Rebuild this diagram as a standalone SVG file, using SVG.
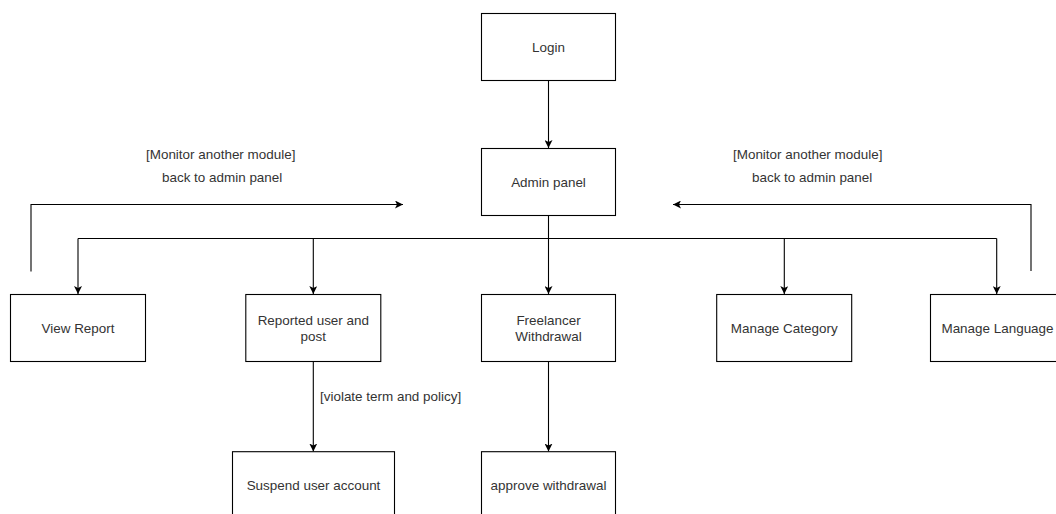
<svg xmlns="http://www.w3.org/2000/svg" width="1056" height="514" viewBox="0 0 1056 514">
<style>
.box{fill:#ffffff;stroke:#000000;stroke-width:1.1}
.t{font-family:"Liberation Sans",Arial,sans-serif;font-size:13.44px;fill:#333333;text-anchor:middle}
.lbl{font-family:"Liberation Sans",Arial,sans-serif;font-size:13.44px;fill:#333333;text-anchor:start}
.c{fill:none;stroke:#000000;stroke-width:1.1}
</style>
<defs>
<marker id="arr" markerUnits="userSpaceOnUse" viewBox="0 0 8 8" markerWidth="8" markerHeight="8" refX="8" refY="4" orient="auto">
<path d="M0,0 L8,4 L0,8 L2,4 z" fill="#000000"/>
</marker>
</defs>
<rect width="1056" height="514" fill="#ffffff"/>
<g id="connectors">
<path class="c" d="M548.5,80.5 V148" marker-end="url(#arr)"/>
<path class="c" d="M548.5,215.5 V238.5"/>
<path class="c" d="M78,238.5 H996.7"/>
<path class="c" d="M78,238.5 V294" marker-end="url(#arr)"/>
<path class="c" d="M313.3,238.5 V294" marker-end="url(#arr)"/>
<path class="c" d="M548.5,238.5 V294" marker-end="url(#arr)"/>
<path class="c" d="M784.3,238.5 V294" marker-end="url(#arr)"/>
<path class="c" d="M996.7,238.5 V294" marker-end="url(#arr)"/>
<path class="c" d="M313.3,361.5 V451.5" marker-end="url(#arr)"/>
<path class="c" d="M548.5,361.5 V451.5" marker-end="url(#arr)"/>
<path class="c" d="M31,271.5 V204.5 H403" marker-end="url(#arr)"/>
<path class="c" d="M1031,271 V204.5 H673" marker-end="url(#arr)"/>
<text class="lbl" x="146" y="159">[Monitor another module]</text>
<text class="lbl" x="162" y="181.5">back to admin panel</text>
<text class="lbl" x="733" y="159">[Monitor another module]</text>
<text class="lbl" x="752" y="181.5">back to admin panel</text>
<text class="lbl" x="320" y="400.5">[violate term and policy]</text>
</g>
<g id="login">
<rect class="box" x="481.5" y="13.5" width="134" height="67"/>
<text class="t" x="548.5" y="51.5">Login</text>
</g>
<g id="admin-panel">
<rect class="box" x="481.5" y="148.5" width="134" height="67"/>
<text class="t" x="548.5" y="186.5">Admin panel</text>
</g>
<g id="view-report">
<rect class="box" x="10.5" y="294.5" width="135" height="67"/>
<text class="t" x="78" y="332.5">View Report</text>
</g>
<g id="reported-user-post">
<rect class="box" x="245.8" y="294.5" width="135" height="67"/>
<text class="t" x="313.3" y="324.7">Reported user and</text>
<text class="t" x="313.3" y="341.2">post</text>
</g>
<g id="freelancer-withdrawal">
<rect class="box" x="481.5" y="294.5" width="134" height="67"/>
<text class="t" x="548.5" y="324.7">Freelancer</text>
<text class="t" x="548.5" y="341.2">Withdrawal</text>
</g>
<g id="manage-category">
<rect class="box" x="716.7" y="294.5" width="135" height="67"/>
<text class="t" x="784.2" y="332.5">Manage Category</text>
</g>
<g id="manage-language">
<rect class="box" x="930.5" y="294.5" width="134.5" height="67"/>
<text class="t" x="997.5" y="332.5">Manage Language</text>
</g>
<g id="suspend-user-account">
<rect class="box" x="232.5" y="451.7" width="162" height="67"/>
<text class="t" x="313.5" y="489.7">Suspend user account</text>
</g>
<g id="approve-withdrawal">
<rect class="box" x="481.5" y="451.7" width="134" height="67"/>
<text class="t" x="548.5" y="489.7">approve withdrawal</text>
</g>
</svg>
